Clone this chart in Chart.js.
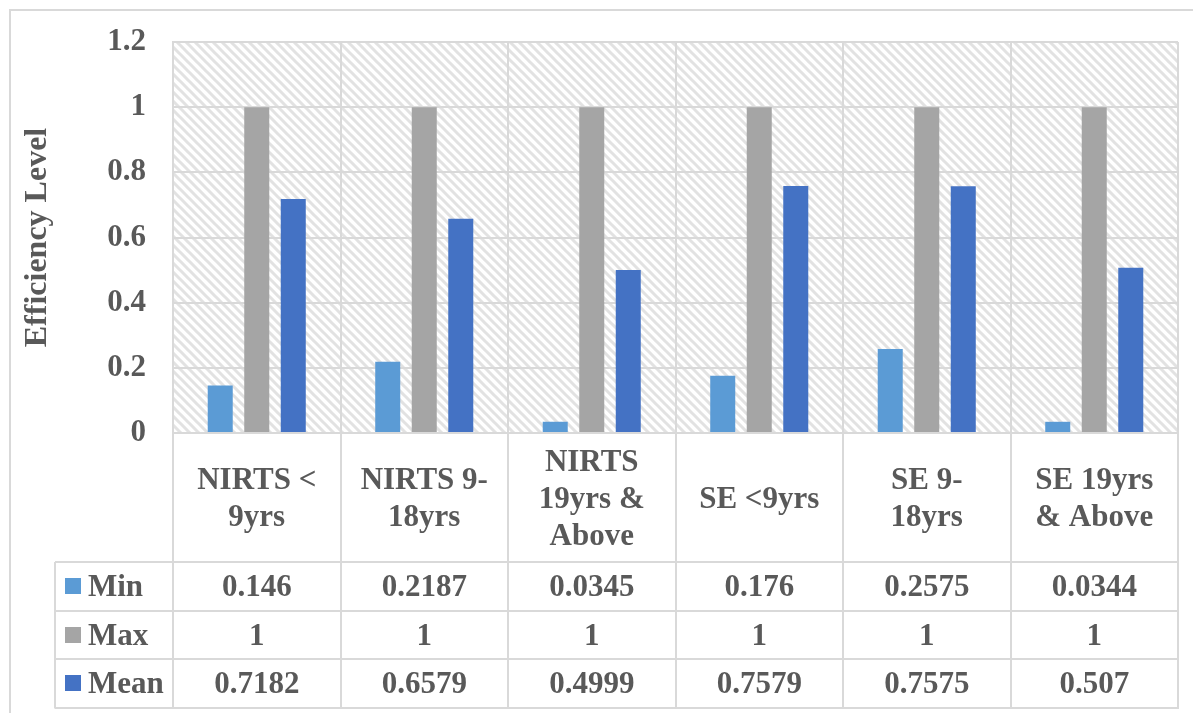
<!DOCTYPE html>
<html>
<head>
<meta charset="utf-8">
<script src="https://cdn.jsdelivr.net/npm/chart.js@4/dist/chart.umd.min.js"></script>
<style>
  html, body { margin: 0; padding: 0; background: #ffffff; }
  #wrap { width: 1193px; height: 713px; }
</style>
</head>
<body>
<div id="wrap"><canvas id="c" width="1193" height="713"></canvas></div>
<script>
// ---- data ----
const categories = [
  ["NIRTS <", "9yrs"],
  ["NIRTS 9-", "18yrs"],
  ["NIRTS", "19yrs &", "Above"],
  ["SE <9yrs"],
  ["SE 9-", "18yrs"],
  ["SE 19yrs", "& Above"]
];
const seriesNames = ["Min", "Max", "Mean"];
const minValues  = [0.146, 0.2187, 0.0345, 0.176, 0.2575, 0.0344];
const maxValues  = [1, 1, 1, 1, 1, 1];
const meanValues = [0.7182, 0.6579, 0.4999, 0.7579, 0.7575, 0.507];
const minLabels  = ["0.146", "0.2187", "0.0345", "0.176", "0.2575", "0.0344"];
const maxLabels  = ["1", "1", "1", "1", "1", "1"];
const meanLabels = ["0.7182", "0.6579", "0.4999", "0.7579", "0.7575", "0.507"];
const yTicks = [0, 0.2, 0.4, 0.6, 0.8, 1, 1.2];
const yTitle = "Efficiency Level";

// ---- styles ----
const colors = ["#5B9BD5", "#A5A5A5", "#4472C4"];
const textColor = "#595959";
const gridColor = "#D9D9D9";
const fontFamily = "'Liberation Serif', 'Times New Roman', serif";
const fontSize = 31;

function makePattern(ctx) {
  const t = document.createElement('canvas');
  const s = 9;
  t.width = s; t.height = s;
  const g = t.getContext('2d');
  g.fillStyle = '#ffffff';
  g.fillRect(0, 0, s, s);
  g.strokeStyle = '#E2E2E2';
  g.lineWidth = 3;
  g.beginPath();
  g.moveTo(-2, -2); g.lineTo(s + 2, s + 2);
  g.moveTo(-2 - s, -2); g.lineTo(2, s + 2);
  g.moveTo(s - 2, -2); g.lineTo(2 * s + 2, s + 2);
  g.stroke();
  return ctx.createPattern(t, 'repeat');
}

const tablePlugin = {
  id: 'tablePlugin',
  beforeDraw(chart) {
    const ctx = chart.ctx;
    const a = chart.chartArea;
    ctx.save();
    ctx.fillStyle = '#ffffff';
    ctx.fillRect(0, 0, chart.width, chart.height);
    // outer chart border
    ctx.strokeStyle = gridColor;
    ctx.lineWidth = 2;
    ctx.beginPath();
    ctx.moveTo(10, chart.height + 5);
    ctx.lineTo(10, 10);
    ctx.lineTo(chart.width + 5, 10);
    ctx.stroke();
    // hatched plot background
    ctx.fillStyle = makePattern(ctx);
    ctx.fillRect(a.left, a.top, a.right - a.left, a.bottom - a.top);
    ctx.restore();
  },
  afterDraw(chart) {
    const ctx = chart.ctx;
    const x = chart.scales.x;
    const a = chart.chartArea;
    const n = categories.length;
    const catW = (x.right - x.left) / n;
    const labelRowBottom = a.bottom + 129;
    const rowH = 48.5;
    const tableBottom = labelRowBottom + rowH * 3;
    const legendLeft = 55;
    ctx.save();
    ctx.strokeStyle = gridColor;
    ctx.lineWidth = 2;
    ctx.beginPath();
    for (let i = 0; i <= n; i++) {
      const bx = Math.round(x.left + i * catW);
      ctx.moveTo(bx, a.bottom);
      ctx.lineTo(bx, tableBottom);
    }
    for (let r = 0; r <= 3; r++) {
      const y = Math.round(labelRowBottom + r * rowH);
      ctx.moveTo(legendLeft, y);
      ctx.lineTo(x.right + 1, y);
    }
    ctx.moveTo(legendLeft, labelRowBottom);
    ctx.lineTo(legendLeft, tableBottom + 1);
    ctx.stroke();

    ctx.fillStyle = textColor;
    ctx.font = `bold ${fontSize}px ${fontFamily}`;
    ctx.textAlign = 'center';
    ctx.textBaseline = 'middle';
    // category labels
    const lh = 37;
    const midY = (a.bottom + labelRowBottom) / 2 + 2;
    categories.forEach((lines, i) => {
      const cx = x.getPixelForValue(i);
      const startY = midY - (lines.length - 1) * lh / 2;
      lines.forEach((ln, k) => ctx.fillText(ln, cx, startY + k * lh));
    });
    // table rows
    const rows = [minLabels, maxLabels, meanLabels];
    rows.forEach((vals, r) => {
      const cy = labelRowBottom + r * rowH + rowH / 2 + 2;
      vals.forEach((v, i) => {
        ctx.textAlign = 'center';
        ctx.fillText(v, x.getPixelForValue(i), cy);
      });
      ctx.fillStyle = colors[r];
      ctx.fillRect(65, Math.round(cy - 10), 16, 16);
      ctx.fillStyle = textColor;
      ctx.textAlign = 'left';
      ctx.fillText(seriesNames[r], 88, cy);
    });
    ctx.restore();
  }
};

const chart = new Chart(document.getElementById('c'), {
  type: 'bar',
  data: {
    labels: categories.map(c => c.join(' ')),
    datasets: [
      { label: seriesNames[0], data: minValues,  backgroundColor: colors[0] },
      { label: seriesNames[1], data: maxValues,  backgroundColor: colors[1] },
      { label: seriesNames[2], data: meanValues, backgroundColor: colors[2] }
    ]
  },
  options: {
    responsive: false,
    devicePixelRatio: 1,
    animation: false,
    events: [],
    layout: { padding: { top: 42, right: 15, bottom: 0, left: 0 } },
    datasets: { bar: { categoryPercentage: 0.654, barPercentage: 0.685 } },
    plugins: { legend: { display: false }, tooltip: { enabled: false } },
    scales: {
      x: {
        grid: { color: gridColor, lineWidth: 2, offset: true, drawTicks: false },
        border: { color: gridColor, width: 2 },
        ticks: { display: false },
        afterFit(scale) { scale.height = 280; }
      },
      y: {
        min: 0, max: 1.2,
        afterBuildTicks(scale) { scale.ticks = yTicks.map(v => ({ value: v })); },
        grid: { color: gridColor, lineWidth: 2, drawTicks: false },
        border: { color: gridColor, width: 2 },
        ticks: {
          color: textColor,
          padding: 27,
          font: { family: fontFamily, size: fontSize, weight: 'bold' },
          callback: v => String(Math.round(v * 10) / 10)
        },
        title: {
          display: true,
          text: yTitle,
          color: textColor,
          font: { family: fontFamily, size: 32, weight: 'bold' },
          padding: { top: 19, bottom: 0 }
        },
        afterFit(scale) {
          scale.width = 173;
          scale.paddingTop = 0;
          scale.paddingBottom = 0;
        }
      }
    }
  },
  plugins: [tablePlugin]
});
</script>
</body>
</html>
